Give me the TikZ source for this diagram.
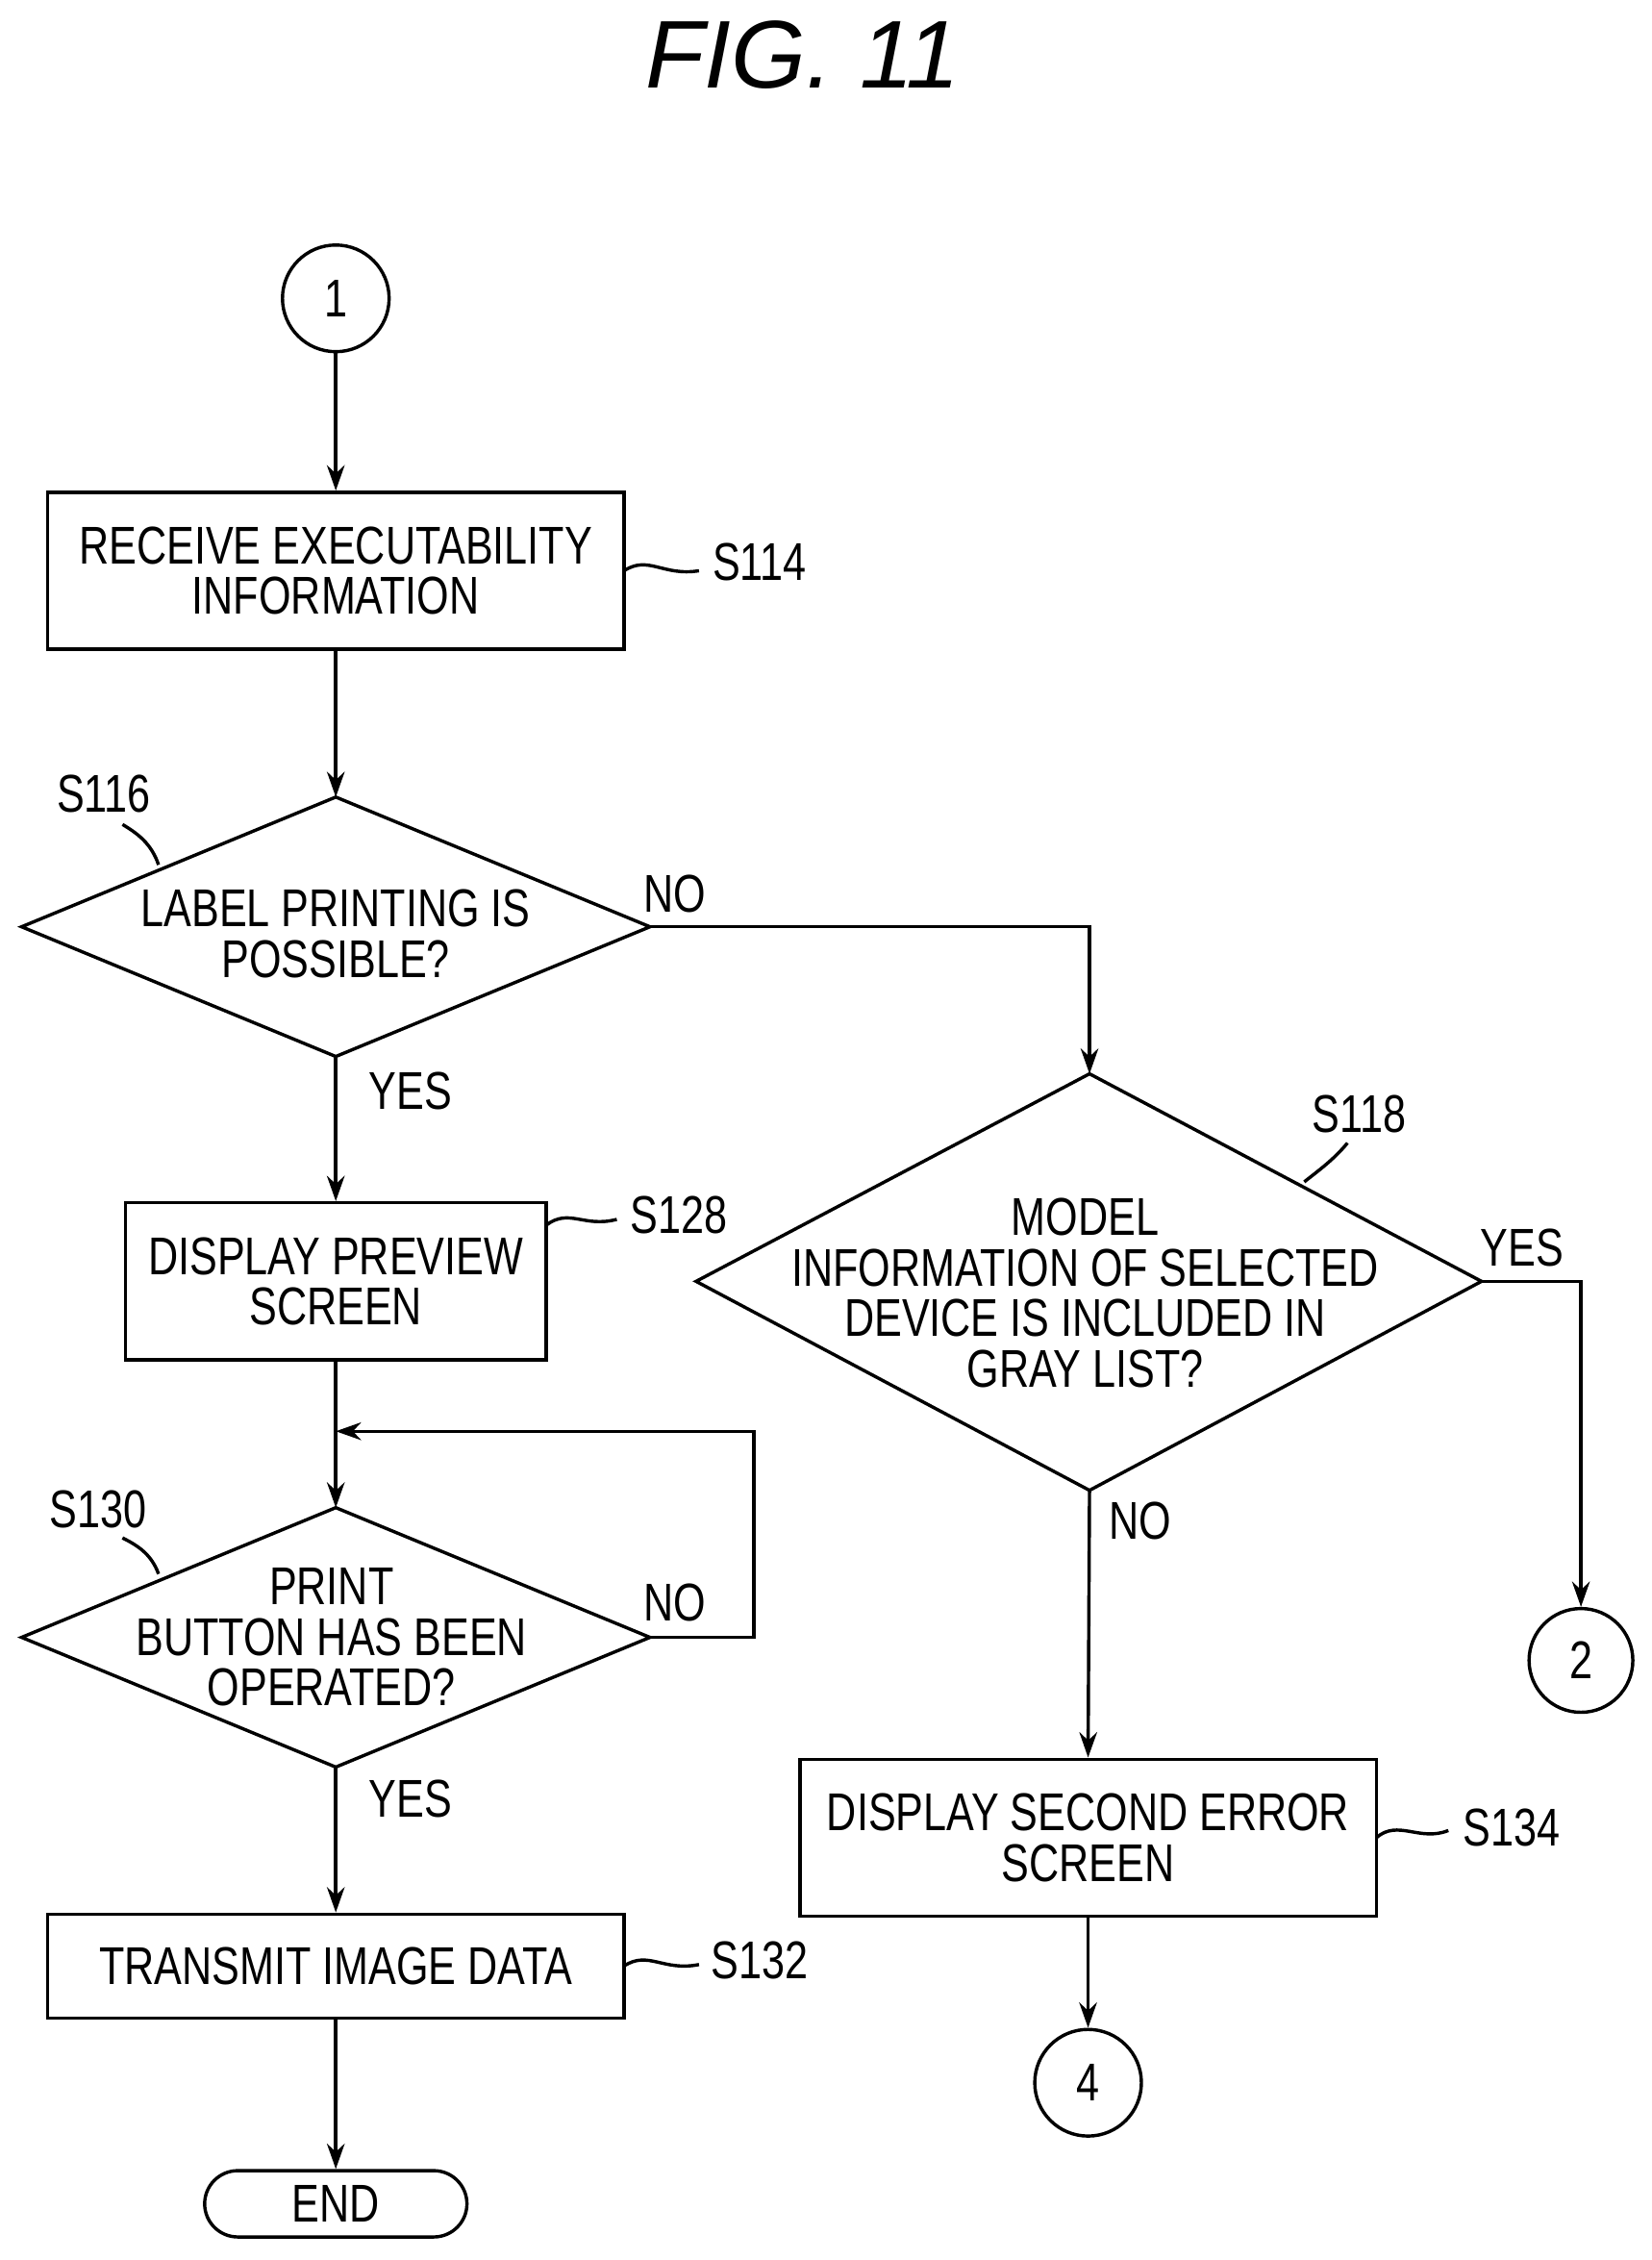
\documentclass[tikz,border=0pt]{standalone}
\usepackage{fontspec}
\setmainfont{Liberation Sans}[FakeStretch=0.78]
\newfontfamily\titlefont{Liberation Sans}
\usetikzlibrary{arrows.meta}
\begin{document}
\begin{tikzpicture}[x=0.02cm,y=-0.02cm,line width=1.3pt,
  every node/.style={font=\fontsize{21}{20}\selectfont},
  txt/.style={align=center,inner sep=0pt},
  arr/.style={-{Stealth[length=10pt,width=7pt]}},
  lbl/.style={inner sep=0pt}]
\useasboundingbox (0,0) rectangle (1146,1568);
\node[txt] (title) at (557,38) {\titlefont\fontsize{38}{38}\selectfont\itshape FIG. 11};
\node[draw,circle,minimum size=74*0.02cm,inner sep=0pt] (c1) at (233,207) {1};
\node[draw,minimum width=400*0.02cm,minimum height=109*0.02cm,txt] (b114) at (233,396) {RECEIVE EXECUTABILITY\\INFORMATION};
\draw (433,396) .. controls (450,385) and (460,400) .. (485,396);
\node[lbl] at (527,390) {S114};
\coordinate (d116t) at (233,553);\coordinate (d116b) at (233,733);\coordinate (d116r) at (451,643);
\draw (15,643)--(d116t)--(d116r)--(d116b)--cycle;
\node[txt] (t116) at (233,648) {LABEL PRINTING IS\\POSSIBLE?};
\draw (110,600) .. controls (105,585) and (95,578) .. (85,572);
\node[lbl] at (72,551) {S116};
\node[lbl] at (468,620) {NO};
\node[lbl] at (285,757) {YES};
\node[draw,minimum width=292*0.02cm,minimum height=109*0.02cm,txt] (b128) at (233,889) {DISPLAY PREVIEW\\SCREEN};
\draw[arr] (d116b)--(b128.north);
\draw (379,850) .. controls (395,838) and (405,852) .. (428,846);
\node[lbl] at (471,843) {S128};
\coordinate (d118t) at (756,745);\coordinate (d118b) at (756,1034);\coordinate (d118r) at (1028,889);
\draw (483,889)--(d118t)--(d118r)--(d118b)--cycle;
\node[txt] (t118) at (753,897) {MODEL\\INFORMATION OF SELECTED\\DEVICE IS INCLUDED IN\\GRAY LIST?};
\draw[arr] (d116r)--(756,643)--(d118t);
\draw (905,820) .. controls (915,812) and (925,805) .. (935,793);
\node[lbl] at (943,773) {S118};
\node[lbl] at (1056,866) {YES};
\node[draw,circle,minimum size=72*0.02cm,inner sep=0pt] (c2) at (1097,1152) {2};
\draw[arr] (d118r)--(1097,889)--(c2.north);
\node[lbl] at (791,1055) {NO};
\node[draw,minimum width=400*0.02cm,minimum height=109*0.02cm,txt] (b134) at (755,1275) {DISPLAY SECOND ERROR\\SCREEN};
\draw[arr] (d118b)--(b134.north);
\draw (955,1275) .. controls (970,1262) and (985,1278) .. (1005,1270);
\node[lbl] at (1049,1268) {S134};
\node[draw,circle,minimum size=74*0.02cm,inner sep=0pt] (c4) at (755,1445) {4};
\draw[arr] (b134.south)--(c4.north);
\coordinate (d130t) at (233,1046);\coordinate (d130b) at (233,1226);\coordinate (d130r) at (451,1136);
\draw (15,1136)--(d130t)--(d130r)--(d130b)--cycle;
\node[txt] (t130) at (230,1136) {PRINT\\BUTTON HAS BEEN\\OPERATED?};
\draw[arr] (b128.south)--(d130t);
\draw[arr] (d130r)--(523,1136)--(523,993)--(233,993);
\draw (110,1092) .. controls (105,1078) and (95,1072) .. (85,1067);
\node[lbl] at (68,1047) {S130};
\node[lbl] at (468,1112) {NO};
\node[lbl] at (285,1248) {YES};
\node[draw,minimum width=400*0.02cm,minimum height=72*0.02cm,txt] (b132) at (233,1364) {TRANSMIT IMAGE DATA};
\draw[arr] (d130b)--(b132.north);
\draw (433,1364) .. controls (450,1353) and (460,1368) .. (485,1363);
\node[lbl] at (527,1360) {S132};
\node[draw,rounded corners=23*0.02cm,minimum width=182*0.02cm,minimum height=46*0.02cm,txt] (end) at (233,1529) {END};
\draw[arr] (b132.south)--(end.north);
\draw[arr] (c1.south)--(b114.north);
\draw[arr] (b114.south)--(d116t);
\end{tikzpicture}
\end{document}
